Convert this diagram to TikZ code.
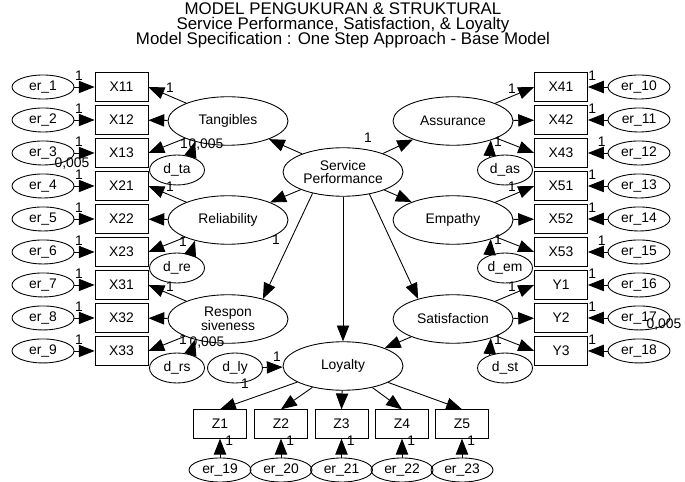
\documentclass[tikz,border=0pt]{standalone}
\usepackage{fontspec}
\setmainfont{Liberation Sans}
\usepackage{tikz}
\usetikzlibrary{shapes.geometric, arrows.meta}
\tikzstyle{indicator} = [rectangle, minimum width=1.06cm, minimum height=0.57cm, inner sep=0pt, text centered, draw=black, line width=0.5pt]
\tikzstyle{errterm} = [ellipse, minimum width=1.24cm, minimum height=0.48cm, inner sep=0pt, draw=black, line width=0.5pt]
\tikzstyle{disturb} = [ellipse, minimum width=1.1cm, minimum height=0.6cm, inner sep=0pt, draw=black, line width=0.5pt]
\tikzstyle{latent} = [ellipse, minimum width=2.4cm, minimum height=0.97cm, inner sep=0pt, align=center, draw=black, line width=0.5pt]
\tikzstyle{lbl} = [inner sep=0pt]
\tikzstyle{arrow} = [line width=0.5pt, -{Triangle[length=9pt, width=7pt]}]

\begin{document}
\begin{tikzpicture}[x=0.02cm, y=-0.02cm, node distance=0.66cm, font=\fontsize{7.9}{7.9}\selectfont]
        \useasboundingbox (0,0) rectangle (685,482);
        \node (title) [align=center, font={\fontsize{9.6}{8.4}\selectfont\lineskiplimit=-5pt}] at (343,25.5) {MODEL PENGUKURAN \& STRUKTURAL\\Service Performance, Satisfaction, \& Loyalty\\Model Specification : One Step Approach - Base Model};

        % left indicators
        \node (x11) [indicator] at (121.5,87) {X11};
        \node (x12) [indicator, below of=x11] {X12};
        \node (x13) [indicator, below of=x12] {X13};
        \node (x21) [indicator, below of=x13] {X21};
        \node (x22) [indicator, below of=x21] {X22};
        \node (x23) [indicator, below of=x22] {X23};
        \node (x31) [indicator, below of=x23] {X31};
        \node (x32) [indicator, below of=x31] {X32};
        \node (x33) [indicator, below of=x32] {X33};

        \node (er1) [errterm, left of=x11, xshift=-0.91cm] {er\_1};
        \node (er2) [errterm, left of=x12, xshift=-0.91cm] {er\_2};
        \node (er3) [errterm, left of=x13, xshift=-0.91cm] {er\_3};
        \node (er4) [errterm, left of=x21, xshift=-0.91cm] {er\_4};
        \node (er5) [errterm, left of=x22, xshift=-0.91cm] {er\_5};
        \node (er6) [errterm, left of=x23, xshift=-0.91cm] {er\_6};
        \node (er7) [errterm, left of=x31, xshift=-0.91cm] {er\_7};
        \node (er8) [errterm, left of=x32, xshift=-0.91cm] {er\_8};
        \node (er9) [errterm, left of=x33, xshift=-0.91cm] {er\_9};

        % right indicators
        \node (x41) [indicator] at (561,87) {X41};
        \node (x42) [indicator, below of=x41] {X42};
        \node (x43) [indicator, below of=x42] {X43};
        \node (x51) [indicator, below of=x43] {X51};
        \node (x52) [indicator, below of=x51] {X52};
        \node (x53) [indicator, below of=x52] {X53};
        \node (y1) [indicator, below of=x53] {Y1};
        \node (y2) [indicator, below of=y1] {Y2};
        \node (y3) [indicator, below of=y2] {Y3};

        \node (er10) [errterm, right of=x41, xshift=0.9cm] {er\_10};
        \node (er11) [errterm, right of=x42, xshift=0.9cm] {er\_11};
        \node (er12) [errterm, right of=x43, xshift=0.9cm] {er\_12};
        \node (er13) [errterm, right of=x51, xshift=0.9cm] {er\_13};
        \node (er14) [errterm, right of=x52, xshift=0.9cm] {er\_14};
        \node (er15) [errterm, right of=x53, xshift=0.9cm] {er\_15};
        \node (er16) [errterm, right of=y1, xshift=0.9cm] {er\_16};
        \node (er17) [errterm, right of=y2, xshift=0.9cm] {er\_17};
        \node (er18) [errterm, right of=y3, xshift=0.9cm] {er\_18};

        % latent variables
        \node (tang) [latent] at (228,121) {Tangibles};
        \node (reli) [latent] at (228,220) {Reliability};
        \node (resp) [latent] at (228,319) {Respon\\siveness};
        \node (assu) [latent] at (453,121) {Assurance};
        \node (empa) [latent] at (453,220) {Empathy};
        \node (sati) [latent] at (453,319) {Satisfaction};
        \node (serv) [latent] at (343,172) {Service\\Performance};
        \node (loya) [latent] at (343,366) {Loyalty};

        \node (dta) [disturb] at (177,170) {d\_ta};
        \node (dre) [disturb] at (177,268) {d\_re};
        \node (drs) [disturb] at (177,368) {d\_rs};
        \node (dly) [disturb] at (235,368) {d\_ly};
        \node (das) [disturb] at (505,170) {d\_as};
        \node (dem) [disturb] at (505,268) {d\_em};
        \node (dst) [disturb] at (505,368) {d\_st};

        % loyalty indicators
        \node (z1) [indicator] at (220,424) {Z1};
        \node (z2) [indicator] at (281,424) {Z2};
        \node (z3) [indicator] at (341.5,424) {Z3};
        \node (z4) [indicator] at (402,424) {Z4};
        \node (z5) [indicator] at (462,424) {Z5};
        \node (er19) [errterm, below of=z1, yshift=-0.26cm] {er\_19};
        \node (er20) [errterm, below of=z2, yshift=-0.26cm] {er\_20};
        \node (er21) [errterm, below of=z3, yshift=-0.26cm] {er\_21};
        \node (er22) [errterm, below of=z4, yshift=-0.26cm] {er\_22};
        \node (er23) [errterm, below of=z5, yshift=-0.26cm] {er\_23};

        % loose estimates
        \node (p1) [lbl] at (170,88) {1};
        \node (p2) [lbl] at (170,187) {1};
        \node (p3) [lbl] at (170,287) {1};
        \node (p4) [lbl] at (512,89) {1};
        \node (p5) [lbl] at (512,187) {1};
        \node (p6) [lbl] at (512,287) {1};
        \node (q1) [lbl] at (184,144) {1};
        \node (q2) [lbl] at (183,242) {1};
        \node (q3) [lbl] at (183,340) {1};
        \node (q4) [lbl] at (498,142) {1};
        \node (q5) [lbl] at (498,240) {1};
        \node (q6) [lbl] at (498,340) {1};
        \node (q7) [lbl] at (277,357) {1};
        \node (s1) [lbl] at (368,138) {1};
        \node (s2) [lbl] at (276,240) {1};
        \node (s3) [lbl] at (245,384) {1};
        \node (v1) [lbl] at (72,164) {0,005};
        \node (v2) [lbl] at (206,145) {0,005};
        \node (v3) [lbl] at (207,343) {0,005};
        \node (v4) [lbl] at (664,325) {0,005};

        \draw [arrow] (er1) -- node[lbl, anchor=south, pos=0.22, yshift=0.12cm] (w1) {1} (x11);
        \draw [arrow] (er2) -- node[lbl, anchor=south, pos=0.22, yshift=0.12cm] (w2) {1} (x12);
        \draw [arrow] (er3) -- node[lbl, anchor=south, pos=0.22, yshift=0.12cm] (w3) {1} (x13);
        \draw [arrow] (er4) -- node[lbl, anchor=south, pos=0.22, yshift=0.12cm] (w4) {1} (x21);
        \draw [arrow] (er5) -- node[lbl, anchor=south, pos=0.22, yshift=0.12cm] (w5) {1} (x22);
        \draw [arrow] (er6) -- node[lbl, anchor=south, pos=0.22, yshift=0.12cm] (w6) {1} (x23);
        \draw [arrow] (er7) -- node[lbl, anchor=south, pos=0.22, yshift=0.12cm] (w7) {1} (x31);
        \draw [arrow] (er8) -- node[lbl, anchor=south, pos=0.22, yshift=0.12cm] (w8) {1} (x32);
        \draw [arrow] (er9) -- node[lbl, anchor=south, pos=0.22, yshift=0.12cm] (w9) {1} (x33);
        \draw [arrow] (er10) -- node[lbl, anchor=south, pos=0.78, yshift=0.12cm] (w10) {1} (x41);
        \draw [arrow] (er11) -- node[lbl, anchor=south, pos=0.78, yshift=0.12cm] (w11) {1} (x42);
        \draw [arrow] (er12) -- node[lbl, anchor=south, pos=0.3, yshift=0.12cm] (w12) {1} (x43);
        \draw [arrow] (er13) -- node[lbl, anchor=south, pos=0.78, yshift=0.12cm] (w13) {1} (x51);
        \draw [arrow] (er14) -- node[lbl, anchor=south, pos=0.78, yshift=0.12cm] (w14) {1} (x52);
        \draw [arrow] (er15) -- node[lbl, anchor=south, pos=0.3, yshift=0.12cm] (w15) {1} (x53);
        \draw [arrow] (er16) -- node[lbl, anchor=south, pos=0.78, yshift=0.12cm] (w16) {1} (y1);
        \draw [arrow] (er17) -- node[lbl, anchor=south, pos=0.78, yshift=0.12cm] (w17) {1} (y2);
        \draw [arrow] (er18) -- node[lbl, anchor=south, pos=0.78, yshift=0.12cm] (w18) {1} (y3);
        \draw [arrow] (er19) -- node[lbl, anchor=west, pos=0.9, xshift=0.1cm] (w19) {1} (z1);
        \draw [arrow] (er20) -- node[lbl, anchor=west, pos=0.9, xshift=0.1cm] (w20) {1} (z2);
        \draw [arrow] (er21) -- node[lbl, anchor=west, pos=0.9, xshift=0.1cm] (w21) {1} (z3);
        \draw [arrow] (er22) -- node[lbl, anchor=west, pos=0.9, xshift=0.1cm] (w22) {1} (z4);
        \draw [arrow] (er23) -- node[lbl, anchor=west, pos=0.9, xshift=0.1cm] (w23) {1} (z5);

        \draw [arrow] (tang) -- (x11.east);
        \draw [arrow] (tang) -- (x12);
        \draw [arrow] (tang) -- (x13.east);
        \draw [arrow] (reli) -- (x21.east);
        \draw [arrow] (reli) -- (x22);
        \draw [arrow] (reli) -- (x23.east);
        \draw [arrow] (resp) -- (x31.east);
        \draw [arrow] (resp) -- (x32);
        \draw [arrow] (resp) -- (x33.east);
        \draw [arrow] (assu) -- (x41.west);
        \draw [arrow] (assu) -- (x42);
        \draw [arrow] (assu) -- (x43.west);
        \draw [arrow] (empa) -- (x51.west);
        \draw [arrow] (empa) -- (x52);
        \draw [arrow] (empa) -- (x53.west);
        \draw [arrow] (sati) -- (y1.west);
        \draw [arrow] (sati) -- (y2);
        \draw [arrow] (sati) -- (y3.west);

        \draw [arrow] (serv) -- (tang);
        \draw [arrow] (serv) -- (reli);
        \draw [arrow] (serv) -- (assu);
        \draw [arrow] (serv) -- (empa);
        \draw [arrow] (serv.215) -- (resp.30);
        \draw [arrow] (serv) -- (loya);
        \draw [arrow] (serv.320) -- (sati.150);
        \draw [arrow] (sati) -- (loya);

        \draw [arrow] (dta.45) -- (tang.212);
        \draw [arrow] (dre.45) -- (reli.212);
        \draw [arrow] (drs.45) -- (resp.212);
        \draw [arrow] (das.140) -- (assu.333);
        \draw [arrow] (dem.140) -- (empa.333);
        \draw [arrow] (dst.140) -- (sati.333);
        \draw [arrow] (dly) -- (loya);

        \draw [arrow] (loya) -- (z1.north);
        \draw [arrow] (loya) -- (z2.north);
        \draw [arrow] (loya) -- (z3.north);
        \draw [arrow] (loya) -- (z4.north);
        \draw [arrow] (loya) -- (z5.north);
    \end{tikzpicture}
\end{document}
